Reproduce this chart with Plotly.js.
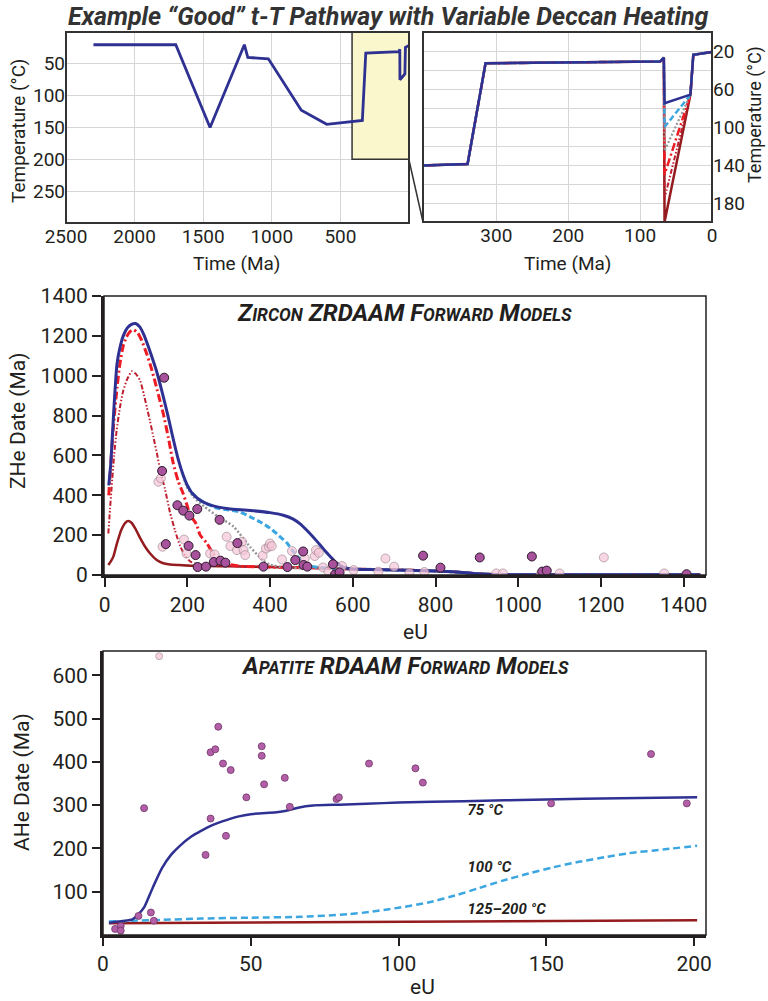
<!DOCTYPE html>
<html><head><meta charset="utf-8">
<script src="https://cdn.plot.ly/plotly-3.0.1.min.js"></script>
<style>html,body{margin:0;padding:0;background:#fff}#chart{width:768px;height:1001px}</style>
</head><body><div id="chart"></div>
<script>
// ---------- t-T pathway ----------
var preTime = [2300, 1700, 1450, 1200, 1175, 1025, 785, 600, 340, 315, 72, 67];
var preTemp = [20, 20, 150, 20, 40, 42, 123, 145, 139, 33, 31, 27];
var heatTime = 66;
var peakTemps = [200, 175, 150, 125, 100, 75];
var postTime = [30, 26, 0];
var postTemp = [66, 24, 21];
var timeTicks = [2500, 2000, 1500, 1000, 500];
var tempTicks = [50, 100, 150, 200, 250];
var insetTimeTicks = [300, 200, 100, 0];
var insetTempTicks = [20, 40, 60, 80, 100, 120, 140, 160, 180];
var insetTempText = ['20', '', '60', '', '100', '', '140', '', '180'];

// ---------- Zircon ZRDAAM forward models ----------
var z75eU   = [10, 15, 22, 30, 38, 46, 55, 65, 75, 85, 95, 105, 115, 126, 140, 153, 165, 178, 190, 200, 210, 222, 235, 250, 270, 300, 330, 360, 400, 432, 455, 472, 490, 513, 530, 546, 560, 577, 600, 640, 700, 800, 850, 900, 950, 1000, 1200, 1440];
var z75Date = [450, 560, 820, 1060, 1150, 1205, 1240, 1258, 1262, 1245, 1205, 1150, 1090, 1020, 910, 800, 690, 580, 500, 450, 415, 390, 370, 356, 343, 333, 327, 322, 313, 300, 282, 258, 222, 170, 128, 92, 62, 40, 30, 27, 25, 20, 15, 6, 2, 1, 1, 1];
var z100eU   = [200, 210, 222, 235, 250, 271, 300, 328, 352, 376, 400, 420, 441, 457, 473, 490, 505, 530, 600, 700, 800, 850, 900, 950, 1000, 1440];
var z100Date = [450, 415, 390, 370, 354, 336, 326, 316, 292, 266, 235, 200, 160, 115, 80, 55, 42, 36, 30, 25, 20, 15, 6, 2, 1, 1];
var z125eU   = [190, 199, 215, 240, 271, 312, 352, 384, 400, 433, 500, 600, 700, 800, 850, 900, 950, 1000, 1440];
var z125Date = [500, 442, 392, 345, 298, 242, 140, 72, 52, 38, 34, 30, 25, 20, 15, 6, 2, 1, 1];
var z150eU   = [10, 15, 21, 30, 37, 45, 53, 62, 70, 80, 90, 100, 110, 120, 130, 142, 154, 166, 178, 190, 200, 207, 222, 231, 247, 263, 279, 304, 330, 400, 500, 600, 700, 800, 850, 900, 950, 1000, 1440];
var z150Date = [400, 560, 740, 940, 1060, 1150, 1195, 1222, 1230, 1215, 1175, 1120, 1058, 985, 905, 808, 690, 560, 470, 408, 345, 300, 255, 200, 160, 105, 72, 52, 44, 40, 36, 30, 26, 20, 15, 6, 2, 1, 1];
var z175eU   = [9, 13, 17, 23, 29, 37, 45, 55, 66, 76, 86, 95, 102, 110, 118, 126, 134, 146, 158, 170, 182, 195, 207, 220, 240, 300, 400, 500, 600, 700, 800, 850, 900, 950, 1000, 1440];
var z175Date = [208, 330, 442, 600, 725, 840, 925, 985, 1022, 1008, 975, 905, 842, 770, 692, 615, 530, 430, 315, 225, 148, 95, 68, 57, 52, 48, 40, 36, 30, 26, 20, 15, 7, 2, 1, 1];
var z200eU   = [9, 15, 21, 30, 40, 50, 57, 65, 75, 86, 98, 110, 126, 140, 158, 180, 207, 250, 300, 400, 500, 600, 700, 800, 850, 900, 950, 1000, 1440];
var z200Date = [50, 68, 92, 160, 225, 262, 271, 262, 230, 185, 142, 108, 75, 60, 53, 50, 47, 45, 44, 40, 36, 30, 26, 20, 15, 7, 2, 1, 1];
var zDarkEU   = [144, 139, 148, 176, 190, 205, 224, 278, 203, 220, 225, 245, 264, 280, 292, 321, 384, 442, 461, 480, 481, 490, 552, 557, 568, 770, 812, 907, 1033, 1058, 1069, 1407];
var zDarkDate = [990, 522, 155, 350, 323, 298, 331, 277, 146, 100, 40, 42, 65, 72, 62, 160, 42, 40, 75, 118, 50, 42, 54, 2, 13, 97, 37, 88, 93, 17, 22, 4];
var zLightEU   = [130, 136, 140, 192, 198, 255, 266, 295, 304, 320, 332, 336, 340, 382, 390, 397, 400, 404, 429, 453, 484, 508, 511, 518, 528, 541, 574, 602, 662, 679, 700, 737, 773, 947, 963, 1054, 1100, 1207, 1353];
var zLightDate = [468, 485, 142, 178, 108, 108, 103, 192, 145, 125, 167, 125, 100, 97, 133, 142, 158, 145, 78, 120, 83, 95, 125, 112, 38, 17, 45, 25, 17, 83, 42, 10, 15, 8, 8, 3, 8, 88, 8];
var zTicksX = [0, 200, 400, 600, 800, 1000, 1200, 1400];
var zTicksY = [0, 200, 400, 600, 800, 1000, 1200, 1400];

// ---------- Apatite RDAAM forward models ----------
var a75eU   = [2, 5, 10, 12, 14, 17, 20, 23, 26, 30, 33, 37, 42, 46, 50, 55, 58, 62, 66, 71, 80, 89, 100, 122, 150, 175, 201];
var a75Date = [28, 31, 36, 48, 65, 112, 155, 185, 206, 228, 240, 254, 266, 274, 279, 282, 283, 287, 294, 299, 301, 303, 306, 309, 313, 316, 318];
var a100eU   = [2, 10, 20, 33, 50, 67, 83, 90, 95, 100, 110, 120, 127, 135, 144, 152, 161, 170, 178, 190, 201];
var a100Date = [31, 33, 35, 38, 40, 42, 48, 53, 58, 63, 75, 93, 108, 125, 142, 156, 169, 180, 189, 198, 206];
var a200eU   = [2, 50, 100, 150, 201];
var a200Date = [27, 29, 31, 33, 34];
var aEU   = [4.1, 6, 6, 12, 13.9, 16.2, 17.2, 34.7, 36.4, 36.4, 38, 39, 40.6, 41.6, 43.2, 48.5, 53.7, 53.7, 54.5, 61.5, 63.2, 79, 79.8, 90, 105.7, 108.2, 151.6, 185.4, 197.5];
var aDate = [14, 21, 10, 44, 293, 52, 33, 185, 269, 422, 429, 481, 396, 229, 381, 318, 436, 414, 348, 363, 296, 314, 318, 396, 385, 352, 304, 418, 304];
var aOutEU = [19];
var aOutDate = [644];
var aTicksX = [0, 50, 100, 150, 200];
var aTicksY = [100, 200, 300, 400, 500, 600];
var aLabels = ['125–200 °C', '100 °C', '75 °C'];
var aLabelEU = [123.3, 123.3, 123.3];
var aLabelDate = [58, 155, 285];

// ---------- styles ----------
var W = 768, H = 1001;
function px(x) { return x / W; }
function py(y) { return 1 - y / H; }
var FONT = 'Roboto, "Open Sans", sans-serif';
var INK = '#231f20';
var variantStyle = [
  {color: '#941b1e', width: 2.5, dash: 'solid'},
  {color: '#be1e2d', width: 2, dash: '5px,2px,1.5px,2px,1.5px,2px'},
  {color: '#ed1c24', width: 2.5, dash: '8px,3px,2px,3px'},
  {color: '#939598', width: 2.2, dash: '2px,2px'},
  {color: '#3ba6df', width: 2.5, dash: '6px,3px'},
  {color: '#2e3192', width: 2.5, dash: 'solid'}
];

var traces = [];
// top-left: good path (75 °C variant)
traces.push({
  x: preTime.concat([heatTime], postTime),
  y: preTemp.concat([peakTemps[5]], postTemp),
  xaxis: 'x', yaxis: 'y', mode: 'lines', hoverinfo: 'skip',
  line: {color: '#2e3192', width: 2.8}
});
// top-right: all heating variants
peakTemps.forEach(function (p, i) {
  traces.push({
    x: preTime.concat([heatTime], postTime),
    y: preTemp.concat([p], postTemp),
    xaxis: 'x2', yaxis: 'y2', mode: 'lines', hoverinfo: 'skip',
    line: variantStyle[i]
  });
});
// middle: zircon curves
var zCurves = [[z200eU, z200Date], [z175eU, z175Date], [z150eU, z150Date], [z125eU, z125Date], [z100eU, z100Date], [z75eU, z75Date]];
var zWidth = [2.5, 2, 3, 2.5, 3, 3];
zCurves.forEach(function (c, i) {
  var st = variantStyle[i];
  traces.push({
    x: c[0], y: c[1], xaxis: 'x3', yaxis: 'y3', mode: 'lines', hoverinfo: 'skip',
    line: {color: st.color, width: zWidth[i], dash: st.dash, shape: 'spline', smoothing: 0.6}
  });
});
traces.push({
  x: zLightEU, y: zLightDate, xaxis: 'x3', yaxis: 'y3', mode: 'markers', hoverinfo: 'skip',
  marker: {size: 9, color: 'rgba(246,198,216,0.72)', line: {color: 'rgba(140,120,130,0.55)', width: 1}}
});
traces.push({
  x: zDarkEU, y: zDarkDate, xaxis: 'x3', yaxis: 'y3', mode: 'markers', hoverinfo: 'skip',
  marker: {size: 9, color: '#a8519c', line: {color: '#2b1a2b', width: 1}}
});
// bottom: apatite curves
traces.push({x: a200eU, y: a200Date, xaxis: 'x4', yaxis: 'y4', mode: 'lines', hoverinfo: 'skip',
  line: {color: '#941b1e', width: 2.5}});
traces.push({x: a100eU, y: a100Date, xaxis: 'x4', yaxis: 'y4', mode: 'lines', hoverinfo: 'skip',
  line: {color: '#3ba6df', width: 2.5, dash: '7px,4px', shape: 'spline', smoothing: 0.6}});
traces.push({x: a75eU, y: a75Date, xaxis: 'x4', yaxis: 'y4', mode: 'lines', hoverinfo: 'skip',
  line: {color: '#2e3192', width: 2.5, shape: 'spline', smoothing: 0.6}});
traces.push({x: aOutEU, y: aOutDate, xaxis: 'x4', yaxis: 'y4', mode: 'markers', hoverinfo: 'skip', cliponaxis: false,
  marker: {size: 7, color: '#f6d3df', line: {color: '#b0a0a8', width: 0.8}}});
traces.push({x: aEU, y: aDate, xaxis: 'x4', yaxis: 'y4', mode: 'markers', hoverinfo: 'skip', cliponaxis: false,
  marker: {size: 7, color: '#b35fa7', line: {color: '#6e3568', width: 0.8}}});
traces.push({x: aLabelEU, y: aLabelDate, text: aLabels, xaxis: 'x4', yaxis: 'y4', mode: 'text', hoverinfo: 'skip',
  textposition: 'middle right', textfont: {family: FONT, size: 15, color: INK, weight: 700, style: 'italic'}});

var tickFontTop = {family: FONT, size: 19, color: INK};
var tickFontBig = {family: FONT, size: 21, color: INK};
var grid = '#d6d6d6';

var layout = {
  width: W, height: H, margin: {l: 0, r: 0, t: 0, b: 0},
  paper_bgcolor: '#fff', plot_bgcolor: 'rgba(0,0,0,0)', showlegend: false,
  xaxis: {domain: [px(66), px(409)], range: [2500, 0], anchor: 'y', tickvals: timeTicks,
    showgrid: true, gridcolor: grid, gridwidth: 1, zeroline: false, showline: false, ticks: '', tickfont: tickFontTop, fixedrange: true},
  yaxis: {domain: [py(223), py(32)], range: [300, 0], anchor: 'x', tickvals: tempTicks,
    showgrid: true, gridcolor: grid, gridwidth: 1, zeroline: false, showline: false, ticks: '', tickfont: tickFontTop, fixedrange: true},
  xaxis2: {domain: [px(423), px(712)], range: [402, 0], anchor: 'y2', tickvals: insetTimeTicks,
    showgrid: true, gridcolor: grid, zeroline: false, showline: false, ticks: '', tickfont: tickFontTop, fixedrange: true},
  yaxis2: {domain: [py(222), py(32)], range: [200, 0], anchor: 'x2', side: 'right', tickvals: insetTempTicks, ticktext: insetTempText,
    showgrid: true, gridcolor: grid, zeroline: false, showline: false, ticks: '', tickfont: tickFontTop, fixedrange: true},
  xaxis3: {domain: [px(104), px(706)], range: [-1.5, 1454], anchor: 'y3', tickvals: zTicksX,
    showgrid: false, zeroline: false, showline: true, linewidth: 3, linecolor: INK,
    ticks: 'outside', ticklen: 9, tickwidth: 2, tickcolor: INK, tickfont: tickFontBig, fixedrange: true},
  yaxis3: {domain: [py(575), py(296)], range: [0, 1400], anchor: 'x3', tickvals: zTicksY,
    showgrid: false, zeroline: false, showline: true, linewidth: 3, linecolor: INK,
    ticks: 'outside', ticklen: 9, tickwidth: 2, tickcolor: INK, tickfont: tickFontBig, fixedrange: true},
  xaxis4: {domain: [px(103), px(706)], range: [0, 204], anchor: 'y4', tickvals: aTicksX,
    showgrid: false, zeroline: false, showline: true, linewidth: 3, linecolor: INK,
    ticks: 'outside', ticklen: 8, tickwidth: 2, tickcolor: INK, tickfont: tickFontBig, fixedrange: true},
  yaxis4: {domain: [py(935), py(651)], range: [0, 656], anchor: 'x4', tickvals: aTicksY,
    showgrid: false, zeroline: false, showline: true, linewidth: 3, linecolor: INK,
    ticks: 'outside', ticklen: 8, tickwidth: 2, tickcolor: INK, tickfont: tickFontBig, fixedrange: true},
  shapes: [
    {type: 'rect', xref: 'x', yref: 'y', x0: 415, x1: 0, y0: 0, y1: 200, fillcolor: '#fbf7cc',
      line: {color: '#333', width: 1.5}, layer: 'between'},
    {type: 'rect', xref: 'x domain', yref: 'y domain', x0: 0, x1: 1, y0: 0, y1: 1, line: {color: '#333', width: 2}},
    {type: 'rect', xref: 'x2 domain', yref: 'y2 domain', x0: 0, x1: 1, y0: 0, y1: 1, line: {color: '#333', width: 2}},
    {type: 'line', xref: 'paper', yref: 'paper', x0: px(409), y0: py(160), x1: px(423), y1: py(222), line: {color: '#333', width: 1.5}},
    {type: 'rect', xref: 'x3 domain', yref: 'y3 domain', x0: 0, x1: 1, y0: 0, y1: 1, line: {color: INK, width: 1.5}},
    {type: 'rect', xref: 'x4 domain', yref: 'y4 domain', x0: 0, x1: 1, y0: 0, y1: 1, line: {color: INK, width: 1.5}}
  ],
  annotations: [
    {text: 'Example “Good” t-T Pathway with Variable Deccan Heating', xref: 'paper', yref: 'paper',
      x: px(388), y: py(16), xanchor: 'center', yanchor: 'middle', showarrow: false,
      font: {family: FONT, size: 25, color: '#333', weight: 700, style: 'italic'}},
    {text: 'Temperature (°C)', xref: 'paper', yref: 'paper', x: px(18), y: py(131), textangle: -90,
      xanchor: 'center', yanchor: 'middle', showarrow: false, font: {family: FONT, size: 19, color: INK}},
    {text: 'Time (Ma)', xref: 'paper', yref: 'paper', x: px(236), y: py(263),
      xanchor: 'center', yanchor: 'middle', showarrow: false, font: {family: FONT, size: 19, color: INK}},
    {text: 'Time (Ma)', xref: 'paper', yref: 'paper', x: px(567), y: py(263),
      xanchor: 'center', yanchor: 'middle', showarrow: false, font: {family: FONT, size: 19, color: INK}},
    {text: 'Temperature (°C)', xref: 'paper', yref: 'paper', x: px(755), y: py(115), textangle: -90,
      xanchor: 'center', yanchor: 'middle', showarrow: false, font: {family: FONT, size: 18, color: INK}},
    {text: 'ZHe Date (Ma)', xref: 'paper', yref: 'paper', x: px(18), y: py(421), textangle: -90,
      xanchor: 'center', yanchor: 'middle', showarrow: false, font: {family: FONT, size: 21, color: INK}},
    {text: 'eU', xref: 'paper', yref: 'paper', x: px(415), y: py(632),
      xanchor: 'center', yanchor: 'middle', showarrow: false, font: {family: FONT, size: 21, color: INK}},
    {text: 'AHe Date (Ma)', xref: 'paper', yref: 'paper', x: px(22), y: py(782), textangle: -90,
      xanchor: 'center', yanchor: 'middle', showarrow: false, font: {family: FONT, size: 21, color: INK}},
    {text: 'eU', xref: 'paper', yref: 'paper', x: px(422), y: py(987),
      xanchor: 'center', yanchor: 'middle', showarrow: false, font: {family: FONT, size: 21, color: INK}},
    {text: 'Z<span style="font-size:17.5px">IRCON</span> ZRDAAM F<span style="font-size:17.5px">ORWARD</span> M<span style="font-size:17.5px">ODELS</span>',
      xref: 'paper', yref: 'paper', x: px(404), y: py(313), xanchor: 'center', yanchor: 'middle', showarrow: false,
      font: {family: FONT, size: 24, color: INK, weight: 700, style: 'italic'}},
    {text: 'A<span style="font-size:17.5px">PATITE</span> RDAAM F<span style="font-size:17.5px">ORWARD</span> M<span style="font-size:17.5px">ODELS</span>',
      xref: 'paper', yref: 'paper', x: px(405), y: py(666), xanchor: 'center', yanchor: 'middle', showarrow: false,
      font: {family: FONT, size: 24, color: INK, weight: 700, style: 'italic'}}
  ]
};

Plotly.newPlot('chart', traces, layout, {staticPlot: true, displayModeBar: false});
</script></body></html>
